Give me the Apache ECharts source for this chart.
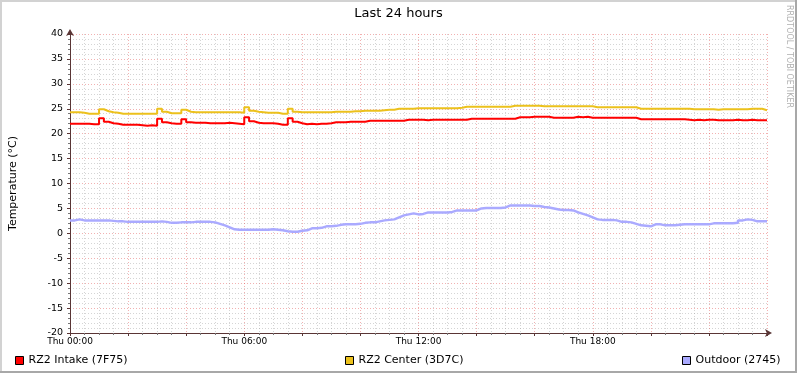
<!DOCTYPE html>
<html>
<head>
<meta charset="utf-8">
<script src="https://cdn.jsdelivr.net/npm/echarts@6/dist/echarts.min.js"></script>
<style>
html,body{margin:0;padding:0;background:#fff;}
#wrap{position:relative;width:797px;height:373px;overflow:hidden;}
#chart{position:absolute;left:0;top:0;width:797px;height:373px;}
.b{position:absolute;pointer-events:none;}
</style>
</head>
<body>
<div id="wrap">
<div id="chart"></div>
<div class="b" style="left:0;top:0;width:797px;height:2px;background:#d2d2d2;"></div>
<div class="b" style="left:0;top:0;width:2px;height:373px;background:#d2d2d2;"></div>
<div class="b" style="left:0;top:371px;width:797px;height:2px;background:#a8a8a8;"></div>
<div class="b" style="left:795px;top:0;width:2px;height:373px;background:#a8a8a8;"></div>
</div>
<script>
// time step: 10 minutes, hours 0..24
var stepHours = 1 / 6;
var tickLabels = ['Thu 00:00', 'Thu 06:00', 'Thu 12:00', 'Thu 18:00'];
var seriesNames = ['RZ2 Intake (7F75)', 'RZ2 Center (3D7C)', 'Outdoor (2745)'];

var intake = [
  22.0, 22.0, 22.0, 22.0, 21.9, 21.9,
  23.1, 22.4, 22.1, 22.0, 21.8, 21.8,
  21.8, 21.8, 21.7, 21.6, 21.7, 21.6,
  23.0, 22.3, 22.1, 22.0, 22.0, 22.9,
  22.3, 22.2, 22.2, 22.2, 22.1, 22.1,
  22.1, 22.1, 22.2, 22.1, 22.0, 21.9,
  23.3, 22.5, 22.2, 22.1, 22.1, 22.1,
  22.0, 21.8, 21.8, 23.1, 22.4, 22.1,
  21.9, 22.0, 21.9, 22.0, 22.0, 22.1,
  22.3, 22.3, 22.3, 22.4, 22.4, 22.4,
  22.4, 22.6, 22.6, 22.6, 22.6, 22.6,
  22.6, 22.6, 22.6, 22.8, 22.8, 22.8,
  22.8, 22.7, 22.8, 22.8, 22.8, 22.8,
  22.8, 22.8, 22.8, 22.8, 23.0, 23.0,
  23.0, 23.0, 23.0, 23.0, 23.0, 23.0,
  23.0, 23.0, 23.3, 23.3, 23.3, 23.4,
  23.4, 23.4, 23.4, 23.2, 23.2, 23.2,
  23.2, 23.2, 23.4, 23.3, 23.4, 23.2,
  23.2, 23.2, 23.2, 23.2, 23.2, 23.2,
  23.2, 23.2, 23.2, 22.9, 22.9, 22.9,
  22.9, 22.9, 22.9, 22.9, 22.9, 22.9,
  22.9, 22.8, 22.7, 22.8, 22.7, 22.8,
  22.8, 22.7, 22.7, 22.7, 22.7, 22.8,
  22.7, 22.7, 22.8, 22.7, 22.7, 22.7
];

var center = [
  24.3, 24.3, 24.2, 24.0, 24.0, 24.0,
  24.9, 24.5, 24.3, 24.2, 24.0, 24.0,
  24.0, 24.0, 24.0, 24.0, 24.0, 24.0,
  25.0, 24.4, 24.1, 24.1, 24.1, 24.8,
  24.4, 24.3, 24.3, 24.3, 24.3, 24.3,
  24.3, 24.3, 24.3, 24.3, 24.3, 24.2,
  25.3, 24.6, 24.4, 24.3, 24.2, 24.2,
  24.2, 24.0, 24.0, 25.0, 24.4, 24.3,
  24.3, 24.3, 24.3, 24.3, 24.3, 24.3,
  24.4, 24.4, 24.4, 24.4, 24.5, 24.5,
  24.6, 24.6, 24.6, 24.6, 24.7, 24.8,
  24.8, 25.0, 25.0, 25.0, 25.0, 25.1,
  25.1, 25.1, 25.1, 25.1, 25.1, 25.1,
  25.1, 25.1, 25.2, 25.4, 25.4, 25.4,
  25.4, 25.4, 25.4, 25.4, 25.4, 25.4,
  25.4, 25.6, 25.6, 25.6, 25.6, 25.6,
  25.6, 25.5, 25.5, 25.5, 25.5, 25.5,
  25.5, 25.5, 25.5, 25.5, 25.5, 25.5,
  25.3, 25.3, 25.3, 25.3, 25.3, 25.3,
  25.3, 25.3, 25.3, 25.0, 25.0, 25.0,
  25.0, 25.0, 25.0, 25.0, 25.0, 25.0,
  25.0, 25.0, 24.9, 24.9, 24.9, 24.9,
  24.9, 24.8, 24.9, 24.9, 24.9, 24.9,
  24.9, 24.9, 25.0, 25.0, 25.0, 24.7
];

var outdoor = [
  2.6, 2.8, 2.6, 2.6, 2.6, 2.6,
  2.6, 2.6, 2.5, 2.4, 2.4, 2.3,
  2.3, 2.3, 2.3, 2.3, 2.3, 2.3,
  2.4, 2.3, 2.1, 2.1, 2.2, 2.2,
  2.2, 2.3, 2.3, 2.3, 2.3, 2.2,
  1.9, 1.6, 1.2, 0.8, 0.7, 0.7,
  0.7, 0.7, 0.7, 0.7, 0.7, 0.8,
  0.7, 0.6, 0.4, 0.3, 0.3, 0.5,
  0.6, 1.0, 1.0, 1.1, 1.4, 1.4,
  1.5, 1.7, 1.8, 1.8, 1.8, 1.9,
  2.1, 2.2, 2.2, 2.4, 2.6, 2.7,
  2.8, 3.2, 3.6, 3.8, 4.0, 3.8,
  3.9, 4.2, 4.2, 4.2, 4.2, 4.2,
  4.3, 4.6, 4.6, 4.6, 4.6, 4.6,
  5.0, 5.1, 5.1, 5.1, 5.1, 5.2,
  5.6, 5.6, 5.6, 5.6, 5.6, 5.5,
  5.5, 5.3, 5.2, 5.0, 4.8, 4.7,
  4.7, 4.6, 4.2, 3.9, 3.6, 3.2,
  2.8, 2.7, 2.7, 2.7, 2.6, 2.3,
  2.3, 2.2, 1.9, 1.6, 1.5, 1.4,
  1.8, 1.8, 1.6, 1.6, 1.6, 1.7,
  1.8, 1.8, 1.8, 1.8, 1.8, 1.8,
  2.0, 2.0, 2.0, 2.0, 2.0, 2.1,
  2.6, 2.8, 2.7, 2.4, 2.4, 2.4
];

function toPairs(arr) {
  var out = arr.map(function (v, i) { return [i * stepHours, v]; });
  out.push([arr.length * stepHours, arr[arr.length - 1]]);
  return out;
}

var FONT = 'DejaVu Sans';
var chart = echarts.init(document.getElementById('chart'), null, { renderer: 'canvas' });

function legendItem(name, left) {
  return {
    data: [name], left: left, top: 355, icon: 'rect', itemWidth: 8, itemHeight: 8, itemGap: 5,
    padding: 0, selectedMode: false,
    itemStyle: { borderColor: '#000', borderWidth: 1 },
    textStyle: { fontFamily: FONT, fontSize: 11, color: '#000', padding: [0, 0, 0, 0] }
  };
}

var gridMajor = { color: 'rgba(225,70,70,0.42)', type: [1, 2], width: 1 };
var gridMinor = { color: 'rgba(150,150,150,0.40)', type: [1, 2], width: 1 };

var option = {
  animation: false,
  backgroundColor: '#fff',
  textStyle: { fontFamily: FONT },
  title: {
    text: 'Last 24 hours', left: 'center', top: 7, padding: 0,
    textStyle: { fontFamily: FONT, fontSize: 13, fontWeight: 'normal', color: '#000' }
  },
  legend: [
    legendItem(seriesNames[0], 15),
    legendItem(seriesNames[1], 345),
    legendItem(seriesNames[2], 682)
  ],
  graphic: [{
    type: 'text', left: 785, top: 5, rotation: -Math.PI / 2,
    style: { text: 'RRDTOOL / TOBI OETIKER', fontFamily: FONT, fontSize: 8, fill: '#b0b0b0' }
  }],
  grid: { left: 67, right: 30, top: 34, bottom: 40, containLabel: false },
  xAxis: {
    type: 'value', min: 0, max: 24, interval: 2,
    axisLine: { show: true, onZero: false, lineStyle: { color: '#5a3535', width: 1 }, symbol: ['none', 'arrow'], symbolSize: [6, 7], symbolOffset: [0, 5] },
    axisTick: { show: true, length: 3, lineStyle: { color: '#5a3535' } },
    minorTick: { show: true, splitNumber: 4, length: 2, lineStyle: { color: '#777' } },
    axisLabel: {
      fontFamily: FONT, fontSize: 9, color: '#000', margin: 4, showMaxLabel: false,
      formatter: function (v) { return (v % 6 === 0 && v < 24) ? tickLabels[v / 6] : ''; }
    },
    splitLine: { show: true, lineStyle: gridMajor },
    minorSplitLine: { show: true, lineStyle: gridMinor }
  },
  yAxis: {
    type: 'value', min: -20, max: 40, interval: 5,
    name: 'Temperature (°C)', nameLocation: 'middle', nameGap: 51,
    nameTextStyle: { fontFamily: FONT, fontSize: 11, color: '#000' },
    axisLine: { show: true, onZero: false, lineStyle: { color: '#5a3535', width: 1 }, symbol: ['none', 'arrow'], symbolSize: [6, 7], symbolOffset: [0, 5] },
    axisTick: { show: true, length: 3, lineStyle: { color: '#5a3535' } },
    minorTick: { show: true, splitNumber: 5, length: 2, lineStyle: { color: '#777' } },
    axisLabel: { fontFamily: FONT, fontSize: 9.5, color: '#000', margin: 7 },
    splitLine: { show: true, lineStyle: gridMajor },
    minorSplitLine: { show: true, lineStyle: gridMinor }
  },
  series: [
    { name: seriesNames[0], type: 'line', step: 'end', showSymbol: false, data: toPairs(intake),
      color: '#ff0000', lineStyle: { color: '#ff0000', width: 2 }, z: 3 },
    { name: seriesNames[1], type: 'line', step: 'end', showSymbol: false, data: toPairs(center),
      color: '#ecc11c', lineStyle: { color: '#ecc11c', width: 2 }, z: 2 },
    { name: seriesNames[2], type: 'line', step: 'end', showSymbol: false, data: toPairs(outdoor),
      color: '#aaaaff', lineStyle: { color: '#aaaaff', width: 2.5 }, z: 2 }
  ]
};
chart.setOption(option);
</script>
</body>
</html>
